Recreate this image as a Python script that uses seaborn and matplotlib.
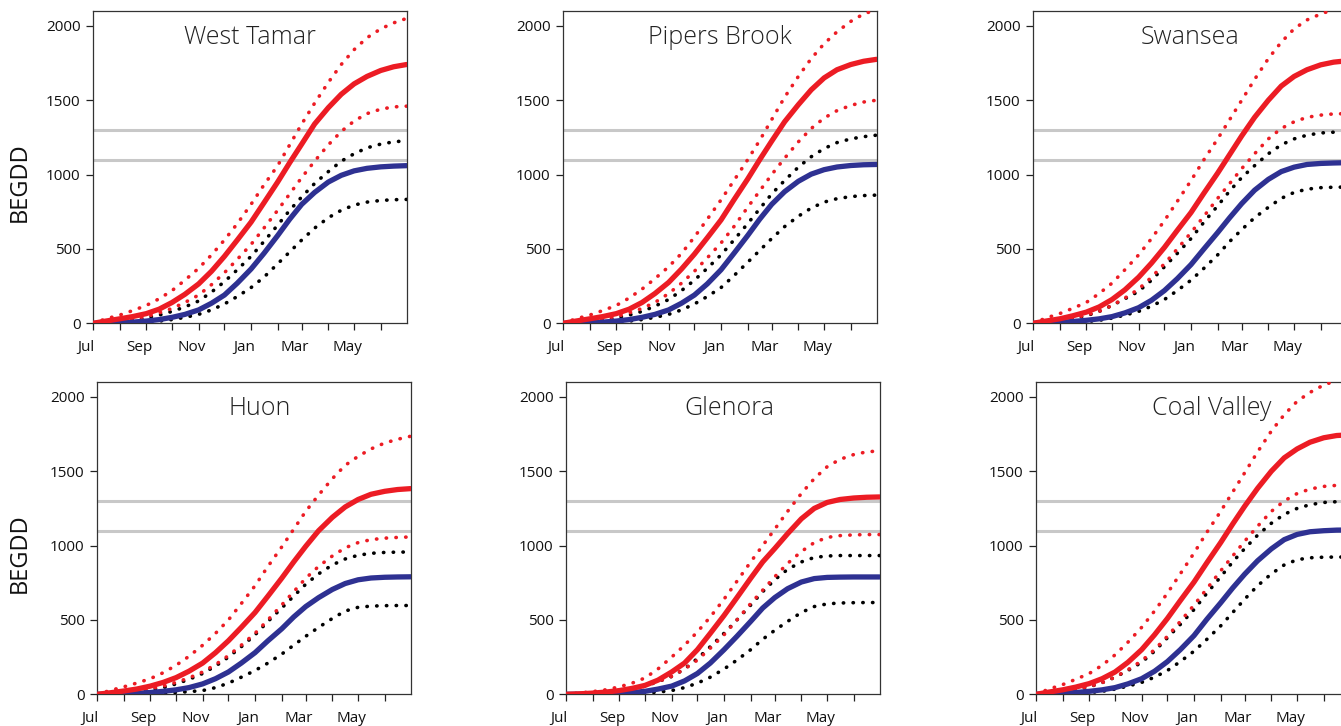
import numpy as np
import pandas as pd
import seaborn as sns
import matplotlib
matplotlib.use('Agg')
import matplotlib.pyplot as plt
import matplotlib.transforms as mtransforms

# days since 1 July, half-month steps
days = [0, 15, 31, 46, 62, 77, 92, 107, 123, 138, 153, 168, 184,
        199, 215, 229, 243, 258, 274, 289, 304, 319, 335, 350, 365]
month_starts = [0, 31, 62, 92, 123, 153, 184, 215, 243, 274, 304, 335]
month_labels = ['Jul', '', 'Sep', '', 'Nov', '', 'Jan', '', 'Mar', '', 'May', '']
thresholds = [1100, 1300]

site_names = ['West Tamar', 'Pipers Brook', 'Swansea', 'Huon', 'Glenora', 'Coal Valley']

# West Tamar
wt_red = [0, 15, 30, 45, 65, 95, 140, 195, 265, 350, 450, 560, 680, 810, 950, 1080, 1205, 1340, 1450, 1540, 1610, 1660, 1700, 1725, 1740]
wt_red_hi = [0, 30, 55, 85, 120, 165, 220, 290, 370, 460, 560, 670, 800, 930, 1060, 1200, 1340, 1480, 1620, 1740, 1840, 1920, 1980, 2020, 2050]
wt_red_lo = [0, 10, 20, 30, 45, 70, 100, 140, 190, 260, 340, 430, 530, 640, 760, 870, 980, 1090, 1200, 1290, 1360, 1410, 1440, 1455, 1460]
wt_blue = [0, 2, 5, 8, 15, 25, 40, 60, 90, 135, 190, 270, 365, 470, 590, 700, 800, 880, 950, 995, 1025, 1042, 1052, 1057, 1060]
wt_blk_hi = [0, 5, 12, 20, 35, 55, 80, 110, 150, 210, 280, 360, 450, 550, 660, 760, 850, 940, 1020, 1090, 1140, 1180, 1205, 1220, 1228]
wt_blk_lo = [0, 0, 2, 4, 8, 15, 25, 40, 60, 90, 130, 180, 240, 310, 400, 480, 560, 640, 710, 760, 795, 815, 826, 831, 833]

# Pipers Brook
pb_red = [0, 15, 30, 45, 65, 95, 140, 200, 275, 365, 465, 575, 695, 830, 970, 1100, 1225, 1355, 1470, 1570, 1650, 1705, 1740, 1762, 1775]
pb_red_hi = [0, 30, 55, 85, 120, 170, 230, 300, 380, 470, 580, 700, 830, 960, 1100, 1230, 1370, 1520, 1660, 1780, 1880, 1960, 2030, 2080, 2110]
pb_red_lo = [0, 10, 20, 30, 45, 70, 100, 140, 200, 270, 350, 440, 540, 650, 780, 890, 1000, 1110, 1220, 1310, 1380, 1430, 1465, 1488, 1500]
pb_blue = [0, 2, 5, 8, 15, 25, 40, 60, 90, 135, 190, 265, 360, 470, 590, 700, 800, 885, 955, 1003, 1033, 1051, 1061, 1066, 1068]
pb_blk_hi = [0, 5, 12, 20, 35, 55, 80, 115, 160, 220, 290, 370, 460, 560, 670, 770, 870, 960, 1050, 1120, 1175, 1215, 1240, 1255, 1265]
pb_blk_lo = [0, 0, 2, 4, 8, 15, 25, 40, 60, 90, 130, 180, 240, 320, 410, 490, 570, 650, 720, 775, 815, 838, 852, 859, 862]

# Swansea
sw_red = [0, 15, 30, 50, 75, 110, 160, 225, 310, 405, 510, 625, 745, 875, 1010, 1135, 1260, 1385, 1500, 1595, 1660, 1705, 1738, 1756, 1765]
sw_red_hi = [0, 35, 65, 100, 140, 200, 270, 360, 460, 570, 690, 820, 960, 1100, 1240, 1370, 1500, 1640, 1780, 1890, 1980, 2040, 2080, 2110, 2130]
sw_red_lo = [0, 10, 20, 35, 55, 80, 120, 170, 230, 310, 400, 500, 610, 720, 840, 940, 1040, 1140, 1240, 1310, 1355, 1385, 1400, 1408, 1410]
sw_blue = [0, 3, 7, 12, 20, 30, 45, 70, 105, 155, 220, 300, 395, 500, 610, 710, 805, 895, 968, 1020, 1050, 1068, 1075, 1078, 1080]
sw_blk_hi = [0, 8, 18, 30, 50, 80, 120, 165, 215, 290, 380, 470, 570, 680, 790, 890, 980, 1060, 1140, 1200, 1240, 1265, 1280, 1285, 1288]
sw_blk_lo = [0, 1, 3, 6, 12, 20, 35, 55, 80, 115, 160, 220, 290, 370, 460, 550, 630, 710, 780, 840, 880, 902, 912, 915, 916]

# Huon
hu_red = [0, 10, 22, 35, 55, 80, 112, 155, 210, 280, 360, 450, 550, 660, 780, 890, 995, 1100, 1190, 1260, 1310, 1345, 1365, 1377, 1383]
hu_red_hi = [0, 25, 50, 75, 105, 145, 195, 255, 330, 410, 500, 610, 730, 860, 990, 1110, 1230, 1340, 1450, 1540, 1600, 1650, 1690, 1715, 1735]
hu_red_lo = [0, 8, 15, 25, 38, 55, 80, 110, 150, 200, 260, 330, 410, 500, 600, 690, 780, 860, 930, 985, 1020, 1040, 1050, 1055, 1058]
hu_blue = [0, 2, 4, 7, 12, 20, 30, 45, 70, 105, 150, 210, 280, 360, 440, 520, 590, 650, 705, 745, 770, 782, 787, 789, 790]
hu_blk_hi = [0, 5, 10, 18, 30, 45, 70, 100, 140, 190, 250, 320, 400, 490, 580, 660, 740, 810, 870, 910, 935, 948, 954, 956, 957]
hu_blk_lo = [0, 0, 1, 3, 5, 8, 12, 18, 25, 45, 75, 115, 160, 210, 270, 330, 390, 450, 510, 560, 585, 593, 596, 597, 597]

# Glenora
gl_red = [0, 3, 8, 15, 25, 40, 60, 95, 150, 210, 300, 410, 530, 650, 780, 890, 980, 1080, 1180, 1250, 1290, 1310, 1320, 1325, 1327]
gl_red_hi = [0, 8, 18, 30, 50, 75, 110, 170, 250, 330, 420, 520, 640, 760, 890, 1000, 1110, 1230, 1350, 1450, 1530, 1580, 1612, 1630, 1637]
gl_red_lo = [0, 3, 8, 15, 25, 40, 60, 85, 120, 170, 230, 310, 400, 500, 610, 700, 790, 880, 960, 1020, 1055, 1067, 1072, 1074, 1074]
gl_blue = [0, 1, 2, 4, 7, 12, 20, 35, 55, 90, 140, 210, 300, 390, 490, 580, 650, 710, 755, 778, 786, 788, 789, 789, 789]
gl_blk_hi = [0, 3, 7, 12, 20, 35, 55, 85, 120, 170, 240, 320, 410, 500, 600, 690, 770, 840, 890, 920, 930, 933, 933, 933, 933]
gl_blk_lo = [0, 0, 0, 1, 2, 4, 8, 15, 25, 45, 75, 115, 170, 230, 300, 370, 430, 490, 550, 590, 608, 614, 616, 617, 617]

# Coal Valley
cv_red = [0, 15, 30, 48, 72, 105, 150, 215, 300, 400, 510, 630, 755, 885, 1020, 1145, 1265, 1385, 1500, 1590, 1650, 1695, 1725, 1740, 1745]
cv_red_hi = [0, 35, 65, 100, 140, 195, 265, 350, 450, 560, 680, 810, 950, 1090, 1230, 1360, 1490, 1630, 1770, 1880, 1970, 2030, 2080, 2110, 2130]
cv_red_lo = [0, 10, 20, 33, 52, 78, 115, 165, 225, 300, 390, 490, 600, 710, 830, 930, 1030, 1130, 1230, 1300, 1350, 1380, 1398, 1405, 1408]
cv_blue = [0, 3, 7, 12, 20, 30, 45, 70, 105, 155, 220, 300, 395, 505, 615, 715, 808, 898, 978, 1040, 1075, 1093, 1100, 1104, 1105]
cv_blk_hi = [0, 8, 18, 30, 50, 78, 115, 160, 215, 290, 380, 470, 570, 680, 790, 890, 980, 1070, 1150, 1210, 1250, 1275, 1290, 1295, 1297]
cv_blk_lo = [0, 1, 3, 6, 12, 20, 35, 55, 80, 115, 160, 220, 290, 370, 460, 550, 640, 730, 810, 870, 905, 918, 922, 923, 923]

site_series = [
    (wt_red, wt_red_hi, wt_red_lo, wt_blue, wt_blk_hi, wt_blk_lo),
    (pb_red, pb_red_hi, pb_red_lo, pb_blue, pb_blk_hi, pb_blk_lo),
    (sw_red, sw_red_hi, sw_red_lo, sw_blue, sw_blk_hi, sw_blk_lo),
    (hu_red, hu_red_hi, hu_red_lo, hu_blue, hu_blk_hi, hu_blk_lo),
    (gl_red, gl_red_hi, gl_red_lo, gl_blue, gl_blk_hi, gl_blk_lo),
    (cv_red, cv_red_hi, cv_red_lo, cv_blue, cv_blk_hi, cv_blk_lo),
]

RED = '#EC1C24'
BLUE = '#2E3192'
GRAY = '#C8C8C8'

sns.set_style('ticks')
plt.rcParams['font.family'] = ['Open Sans', 'DejaVu Sans']

W, H = 1341, 726
fig = plt.figure(figsize=(W / 100, H / 100), dpi=100)

# panel boxes in pixels: left, top
boxes = [(93, 11), (563, 11), (1033, 11), (97, 382), (566, 382), (1036, 382)]
pw, ph = 313.5, 312.3
title_x = [0.5, 0.5, 0.5, 0.52, 0.52, 0.56]

dot = (0, (0.1, 2.6))

for i, (name, series) in enumerate(zip(site_names, site_series)):
    left, top = boxes[i]
    ax = fig.add_axes([left / W, (H - top - ph) / H, pw / W, ph / H])
    red, red_hi, red_lo, blue, blk_hi, blk_lo = series

    for t in thresholds:
        ax.axhline(t, color=GRAY, lw=2.2, zorder=1)

    df = pd.DataFrame({'day': days, 'red': red, 'red_hi': red_hi, 'red_lo': red_lo,
                       'blue': blue, 'blk_hi': blk_hi, 'blk_lo': blk_lo})

    for col, c in [('blk_hi', 'black'), ('blk_lo', 'black'), ('red_hi', RED), ('red_lo', RED)]:
        sns.lineplot(data=df, x='day', y=col, ax=ax, color=c, lw=2.6,
                     linestyle=dot, dash_capstyle='round', zorder=3)
    sns.lineplot(data=df, x='day', y='blue', ax=ax, color=BLUE, lw=3.8,
                 solid_capstyle='round', zorder=4)
    sns.lineplot(data=df, x='day', y='red', ax=ax, color=RED, lw=3.8,
                 solid_capstyle='round', zorder=5)

    ax.set_xlim(0, 365)
    ax.set_ylim(0, 2100)
    ax.set_xticks(month_starts)
    ax.set_xticklabels(month_labels)
    ax.set_yticks([0, 500, 1000, 1500, 2000])
    ax.set_xlabel('')
    ax.set_ylabel('')
    ax.tick_params(axis='both', direction='out', length=5, width=0.9,
                   color='#222222', labelsize=11, labelcolor='#111111')
    ax.tick_params(axis='x', pad=7)
    ax.tick_params(axis='y', pad=4)
    shift = mtransforms.ScaledTranslation(-7 / 100, 0, fig.dpi_scale_trans)
    for lab in ax.get_xticklabels():
        lab.set_transform(lab.get_transform() + shift)
    for sp in ax.spines.values():
        sp.set_visible(True)
        sp.set_color('#333333')
        sp.set_linewidth(0.9)

    ax.text(title_x[i], 0.915, name, transform=ax.transAxes, ha='center',
            va='center', fontsize=18, fontweight='light', color='#222222')

fig.text(20 / W, 1 - 182 / H, 'BEGDD', rotation=90, ha='center', va='center',
         fontsize=17, color='#111111')
fig.text(20 / W, 1 - 553 / H, 'BEGDD', rotation=90, ha='center', va='center',
         fontsize=17, color='#111111')

fig.savefig('out.png', dpi=100)
